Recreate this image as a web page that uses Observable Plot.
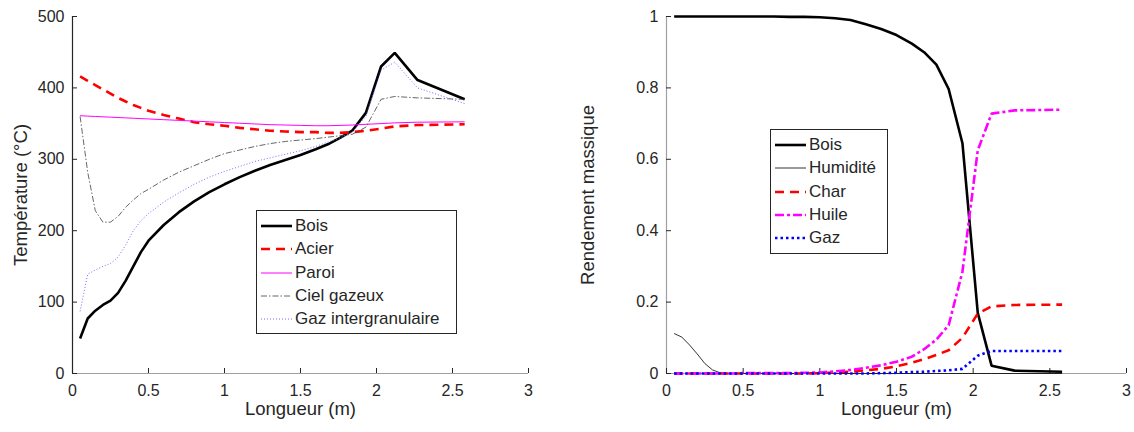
<!DOCTYPE html>
<html>
<head>
<meta charset="utf-8">
<script src="https://cdn.jsdelivr.net/npm/d3@7"></script>
<script src="https://cdn.jsdelivr.net/npm/@observablehq/plot@0.6"></script>
<style>
  html, body { margin: 0; padding: 0; background: #fff; }
  #wrap { position: relative; width: 1134px; height: 432px; font-family: "Liberation Sans", Arial, sans-serif; color: #262626; overflow: hidden; }
  .panel { position: absolute; top: 0; }
  .panel svg { overflow: visible; }
  .legend { position: absolute; background: #fff; border: 1px solid #262626; box-sizing: border-box; font-size: 17px; }
  .legend .row { position: absolute; left: 0; height: 22px; display: flex; align-items: center; white-space: nowrap; }
  .legend svg { display: block; margin-left: 4px; margin-right: 3px; }
</style>
</head>
<body>
<div id="wrap"></div>
<script>
// ---- data ----
const longueur = [0.05, 0.1, 0.15, 0.2, 0.25, 0.3, 0.35, 0.4, 0.45, 0.5, 0.6, 0.7, 0.8, 0.9, 1.0, 1.1, 1.2, 1.3, 1.4, 1.5, 1.6, 1.68, 1.76, 1.84, 1.93, 2.03, 2.12, 2.27, 2.58];

// Température (°C)
const tBois  = [49, 77, 88, 96, 102, 113, 130, 150, 170, 186, 208, 226, 241, 254, 265, 275, 284, 292, 299, 306, 314, 321, 330, 340, 365, 430, 449, 411, 384];
const tAcier = [416, 410, 404, 398, 392, 386, 381, 376, 372, 368, 362, 357, 352, 349, 347, 344, 342, 340, 339, 338, 338, 337, 337, 338, 340, 343, 346, 348, 349];
const tParoi = [361, 360.5, 360, 359.5, 359, 358.5, 358, 357.5, 357, 356.5, 355.5, 354.5, 353.5, 352.5, 351.5, 350.5, 349.5, 348.5, 348, 347.5, 347, 347, 347.5, 348, 349, 350, 351, 352, 352.5];
const tCiel  = [360, 282, 228, 212, 212, 220, 233, 243, 252, 258, 271, 282, 291, 300, 308, 313, 318, 322, 325, 327, 329, 331, 333, 335, 345, 384, 388, 386, 384];
const tGazInt = [87, 139, 145, 150, 154, 163, 180, 200, 214, 224, 240, 253, 265, 275, 283, 290, 297, 302, 307, 312, 318, 324, 330, 338, 360, 425, 436, 400, 378];

// Rendement massique
const rBois     = [1, 1, 1, 1, 1, 1, 1, 1, 1, 1, 1, 1, 0.999, 0.999, 0.998, 0.995, 0.99, 0.978, 0.965, 0.948, 0.924, 0.9, 0.865, 0.797, 0.645, 0.17, 0.022, 0.008, 0.005];
const rHumidite = [0.112, 0.102, 0.08, 0.055, 0.028, 0.01, 0.002, 0, 0, 0, 0, 0, 0, 0, 0, 0, 0, 0, 0, 0, 0, 0, 0, 0, 0, 0, 0, 0, 0];
const rChar     = [0, 0, 0, 0, 0, 0, 0, 0, 0, 0, 0, 0, 0, 0, 0.001, 0.003, 0.005, 0.009, 0.013, 0.02, 0.03, 0.04, 0.052, 0.065, 0.1, 0.168, 0.188, 0.192, 0.193];
const rHuile    = [0, 0, 0, 0, 0, 0, 0, 0, 0, 0.001, 0.001, 0.001, 0.001, 0.002, 0.003, 0.006, 0.01, 0.016, 0.023, 0.033, 0.047, 0.068, 0.095, 0.135, 0.285, 0.625, 0.728, 0.737, 0.739];
const rGaz      = [0, 0, 0, 0, 0, 0, 0, 0, 0, 0, 0, 0, 0, 0, 0, 0, 0, 0, 0.001, 0.002, 0.004, 0.005, 0.007, 0.009, 0.013, 0.05, 0.063, 0.063, 0.063];

const xTicks = [0, 0.5, 1, 1.5, 2, 2.5, 3];
const yTicksT = [0, 100, 200, 300, 400, 500];
const yTicksR = [0, 0.2, 0.4, 0.6, 0.8, 1];

const leftSeries = [
  {name: "Bois", values: tBois, stroke: "#000000", width: 2.6, dash: null},
  {name: "Acier", values: tAcier, stroke: "#ff0000", width: 2.6, dash: "9,6"},
  {name: "Paroi", values: tParoi, stroke: "#ff00ff", width: 1, dash: null},
  {name: "Ciel gazeux", values: tCiel, stroke: "#404040", width: 0.8, dash: "6,2,1.5,2"},
  {name: "Gaz intergranulaire", values: tGazInt, stroke: "#7070ff", width: 1, dash: "1,2"}
];
const rightSeries = [
  {name: "Bois", values: rBois, stroke: "#000000", width: 2.6, dash: null},
  {name: "Humidité", values: rHumidite, stroke: "#000000", width: 0.8, dash: null},
  {name: "Char", values: rChar, stroke: "#ff0000", width: 2.6, dash: "9,6"},
  {name: "Huile", values: rHuile, stroke: "#ff00ff", width: 2.6, dash: "9,3,3,3"},
  {name: "Gaz", values: rGaz, stroke: "#0000ff", width: 2.6, dash: "2.5,3"}
];

const W = 567, H = 432, MT = 16, MB = 59;
const font = '"Liberation Sans", Arial, sans-serif';

function makePlot(series, yDomain, yTicks, yLabel, ml, mr, yAxisColor) {
  const fw = W - ml - mr, fh = H - MT - MB;
  const marks = [
    Plot.ruleY([yDomain[0]], {stroke: "#a0a0a0", strokeWidth: 1.2}),
    Plot.ruleX([0], {stroke: yAxisColor, strokeWidth: 1.2}),
    Plot.tickX(xTicks, {x: d => d, insetTop: fh - 5, stroke: "#262626"}),
    Plot.tickY(yTicks, {y: d => d, insetRight: fw - 5, stroke: "#262626"}),
    Plot.axisX(xTicks, {tickSize: 0, tickPadding: 11, fontSize: 16, fill: "#262626", label: null, tickFormat: d => String(d)}),
    Plot.axisY(yTicks, {tickSize: 0, tickPadding: 8, fontSize: 16, fill: "#262626", label: null, tickFormat: d => String(d)}),
    Plot.text(["Longueur (m)"], {frameAnchor: "bottom", textAnchor: "middle", dy: 41, fontSize: 18.5, fill: "#262626", text: d => d}),
    Plot.text([yLabel], {frameAnchor: "left", textAnchor: "middle", lineAnchor: "middle", dx: -(ml - 21), rotate: -90, fontSize: 18.5, fill: "#262626", text: d => d})
  ];
  for (const s of series) {
    marks.push(Plot.line(longueur.map((x, i) => ({x, y: s.values[i]})), {
      x: "x", y: "y", stroke: s.stroke, strokeWidth: s.width,
      strokeDasharray: s.dash, strokeLinejoin: "miter", strokeLinecap: "butt"
    }));
  }
  return Plot.plot({
    width: W, height: H,
    marginLeft: ml, marginRight: mr, marginTop: MT, marginBottom: MB,
    style: {fontFamily: font, background: "transparent", overflow: "visible"},
    x: {domain: [0, 3], axis: null},
    y: {domain: yDomain, axis: null},
    marks
  });
}

function makeLegend(series, left, top, width, height) {
  const lg = document.createElement("div");
  lg.className = "legend";
  lg.style.left = left + "px"; lg.style.top = top + "px";
  lg.style.width = width + "px"; lg.style.height = height + "px";
  series.forEach((s, i) => {
    const row = document.createElement("div");
    row.className = "row";
    row.style.top = (4 + i * 23.3) + "px";
    const ns = "http://www.w3.org/2000/svg";
    const svg = document.createElementNS(ns, "svg");
    svg.setAttribute("width", 31); svg.setAttribute("height", 10);
    const ln = document.createElementNS(ns, "line");
    ln.setAttribute("x1", 0); ln.setAttribute("x2", 31);
    ln.setAttribute("y1", 5); ln.setAttribute("y2", 5);
    ln.setAttribute("stroke", s.stroke);
    ln.setAttribute("stroke-width", s.width);
    if (s.dash) ln.setAttribute("stroke-dasharray", s.dash);
    svg.appendChild(ln);
    row.appendChild(svg);
    const t = document.createElement("span");
    t.textContent = s.name;
    row.appendChild(t);
    lg.appendChild(row);
  });
  return lg;
}

const wrap = document.getElementById("wrap");

const p1 = document.createElement("div");
p1.className = "panel"; p1.style.left = "0px";
p1.appendChild(makePlot(leftSeries, [0, 500], yTicksT, "Température (°C)", 72, 39, "#262626"));
wrap.appendChild(p1);

const p2 = document.createElement("div");
p2.className = "panel"; p2.style.left = "567px";
p2.appendChild(makePlot(rightSeries, [0, 1], yTicksR, "Rendement massique", 99, 8, "#a0a0a0"));
wrap.appendChild(p2);

wrap.appendChild(makeLegend(leftSeries, 256, 210, 201, 124));
wrap.appendChild(makeLegend(rightSeries, 770, 129, 118, 125));
</script>
</body>
</html>
